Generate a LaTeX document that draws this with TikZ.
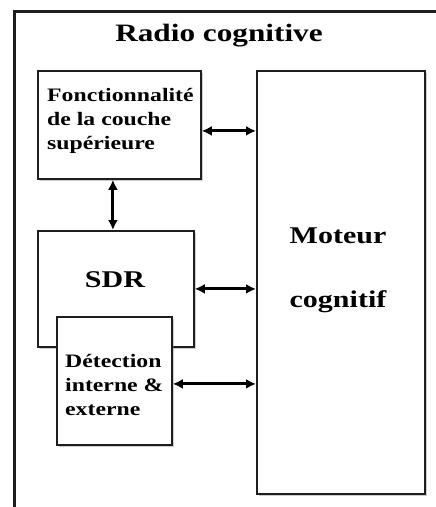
\documentclass[tikz,border=0pt]{standalone}
\usepackage{fontspec}
\setmainfont[FakeStretch=1.25]{Liberation Serif}
\usetikzlibrary{positioning, calc, arrows.meta, shadows}
\definecolor{Trait}{HTML}{1E1E1E}
\definecolor{Fond}{HTML}{FFFFFF}
\tikzset{
    bloc/.style={rectangle, draw=Trait, line width=1.8pt, fill=Fond, anchor=north west, inner sep=0pt,
        drop shadow={opacity=0.4, shadow xshift=2pt, shadow yshift=-2pt}},
    titre/.style={font=\bfseries\fontsize{25}{30}\selectfont, text=black, inner sep=0pt},
    texte/.style={font=\bfseries\fontsize{19}{24}\selectfont, text=black, align=left, inner sep=0pt},
    grand/.style={font=\bfseries\fontsize{24}{28}\selectfont, text=black, inner sep=0pt},
    liaison/.style={arrows={Latex[length=10pt,width=10pt]-Latex[length=10pt,width=10pt]}, line width=3pt, draw=black},
}

\begin{document}
\begin{tikzpicture}[x=1pt, y=1pt]
    \useasboundingbox (0,0) rectangle (436,-507);
    \clip (0,0) rectangle (436,-507);
    \fill[Fond] (0,0) rectangle (436,-507);

    % --- Cadre general ---
    \node[rectangle, draw=Trait, line width=2.8pt, anchor=north west, inner sep=0pt,
          minimum width=445pt, minimum height=512pt] (cadre) at (13,-10) {};
    \node[titre, anchor=base] (titrecadre) at (219,-41) {Radio cognitive};

    % --- Blocs ---
    \node[bloc, minimum width=163pt, minimum height=108pt] (fonct) at (37,-70) {};
    \node[texte, anchor=west] (fonctlabel) at (47,-121) {Fonctionnalité\\de la couche\\supérieure};

    \node[bloc, minimum width=156pt, minimum height=116pt] (sdr) at (37,-230) {};
    \node[grand, anchor=base] (sdrlabel) at (115,-287) {SDR};

    \node[bloc, minimum width=115pt, minimum height=128pt] (detect) at (56,-316) {};
    \node[texte, anchor=west] (detectlabel) at (65,-385) {Détection\\interne \&\\externe};

    \node[bloc, minimum width=168pt, minimum height=423pt] (moteur) at (256,-70) {};
    \node[grand, anchor=base] (moteurlabel) at (338,-243) {Moteur};
    \node[grand, anchor=base] (cognitiflabel) at (338,-307) {cognitif};

    % --- Liaisons ---
    \draw[liaison] ([yshift=-6pt]fonct.east) -- ([yshift=-6pt]fonct.east -| moteur.west);
    \draw[liaison] ([xshift=-3pt]sdr.north) -- ([xshift=-3pt]sdr.north |- fonct.south);
    \draw[liaison] (sdr.east) -- (sdr.east -| moteur.west);
    \draw[liaison] ([yshift=-3pt]detect.east) -- ([yshift=-3pt]detect.east -| moteur.west);

\end{tikzpicture}
\end{document}
